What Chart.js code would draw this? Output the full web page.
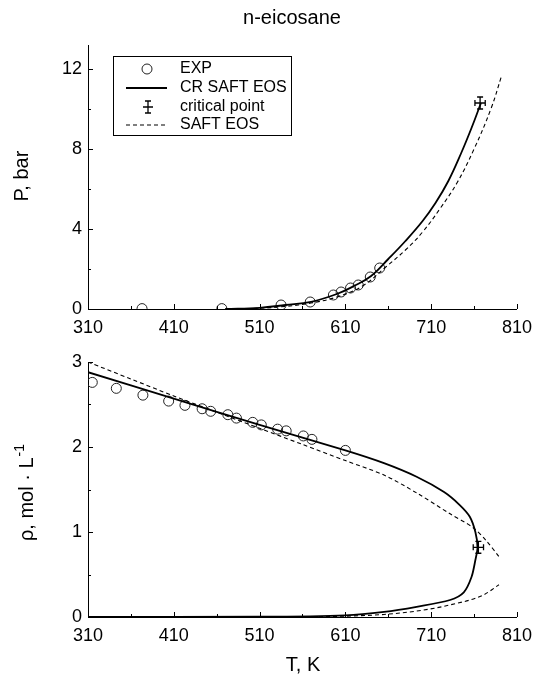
<!DOCTYPE html>
<html>
<head>
<meta charset="utf-8">
<script src="https://cdn.jsdelivr.net/npm/chart.js"></script>
<style>
  body { margin: 0; background: #fff; }
  #wrap { position: relative; width: 540px; height: 679px; }
  canvas { position: absolute; left: 0; }
</style>
</head>
<body>
<div id="wrap">
  <canvas id="pChart" width="540" height="345" style="top:0"></canvas>
  <canvas id="rhoChart" width="540" height="334" style="top:345px"></canvas>
</div>
<script>
// vapour pressure, experimental
const expPT = [373, 466, 535, 569, 596, 605, 616, 625, 639, 650];
const expP = [0.02, 0.02, 0.2, 0.35, 0.7, 0.85, 1.05, 1.2, 1.6, 2.05];
// CR SAFT EOS pressure curve
const crPT = [470, 510, 540, 570, 600, 620, 640, 660, 680, 700, 715, 730, 745, 757, 768];
const crP = [0, 0.06, 0.2, 0.36, 0.75, 1.15, 1.65, 2.5, 3.4, 4.4, 5.3, 6.4, 7.8, 9.05, 10.3];
// SAFT EOS pressure curve
const saftPT = [470, 510, 540, 570, 600, 630, 657, 680, 700, 720, 740, 760, 780, 792];
const saftP = [0, 0.04, 0.13, 0.3, 0.6, 1.15, 2.1, 2.95, 3.85, 5.0, 6.3, 8.0, 10.05, 11.65];

// saturated densities, experimental
const expRhoT = [315, 343, 374, 404, 423, 443, 453, 473, 483, 502, 512, 531, 541, 561, 571, 610];
const expRho = [2.76, 2.69, 2.61, 2.54, 2.49, 2.45, 2.42, 2.38, 2.34, 2.29, 2.26, 2.21, 2.19, 2.13, 2.09, 1.96];
// CR SAFT EOS coexistence curve (liquid branch, then vapour branch)
const crRhoT = [310, 410, 510, 610, 655, 693, 725, 743, 755, 761.5, 764, 761.5, 757, 748, 732, 693, 655, 610, 510, 310];
const crRho = [2.88, 2.57, 2.26, 1.96, 1.81, 1.65, 1.47, 1.32, 1.18, 1.0, 0.82, 0.67, 0.47, 0.29, 0.2, 0.12, 0.06, 0.02, 0.003, 0];
// SAFT EOS liquid and vapour branches
const saftLiqT = [310, 360, 410, 460, 510, 560, 610, 655, 693, 731, 759, 774, 789];
const saftLiq = [3.0, 2.8, 2.6, 2.41, 2.22, 2.03, 1.84, 1.67, 1.46, 1.22, 1.05, 0.9, 0.71];
const saftVapT = [310, 510, 610, 655, 693, 731, 771, 789];
const saftVap = [0, 0, 0.01, 0.03, 0.07, 0.14, 0.26, 0.38];

// critical point with error bars
const critT = [767, 765];
const critP = 10.3;
const critRho = 0.82;
const critErrT = 6;
const critErrP = 0.3;
const critErrRho = 0.07;

// axis ticks
const xTickLabels = [310, 410, 510, 610, 710, 810];
const pTickLabels = [0, 4, 8, 12];
const rhoTickLabels = [0, 1, 2, 3];

const FONT = "'Liberation Sans', Arial, sans-serif";
const pts = (xs, ys) => xs.map((x, i) => ({ x: x, y: ys[i] }));

function drawErrCross(ctx, xs, ys, T, v, eT, eV) {
  const x = xs.getPixelForValue(T), y = ys.getPixelForValue(v);
  const x1 = xs.getPixelForValue(T - eT), x2 = xs.getPixelForValue(T + eT);
  const y1 = ys.getPixelForValue(v - eV), y2 = ys.getPixelForValue(v + eV);
  ctx.save();
  ctx.strokeStyle = '#000';
  ctx.lineWidth = 1.3;
  ctx.beginPath();
  ctx.moveTo(x1, y); ctx.lineTo(x2, y);
  ctx.moveTo(x, y1); ctx.lineTo(x, y2);
  ctx.moveTo(x1, y - 3); ctx.lineTo(x1, y + 3);
  ctx.moveTo(x2, y - 3); ctx.lineTo(x2, y + 3);
  ctx.moveTo(x - 3, y1); ctx.lineTo(x + 3, y1);
  ctx.moveTo(x - 3, y2); ctx.lineTo(x + 3, y2);
  ctx.stroke();
  ctx.restore();
}

// inward tick marks on both axes
function innerTicks(chart, xStep, yStep, yLabels) {
  const ctx = chart.ctx, xs = chart.scales.x, ys = chart.scales.y;
  const a = chart.chartArea;
  ctx.save();
  ctx.strokeStyle = '#000';
  ctx.lineWidth = 1;
  ctx.beginPath();
  for (let v = xs.min; v <= xs.max + 1e-6; v += xStep) {
    const x = Math.round(xs.getPixelForValue(v)) + 0.5;
    const len = xTickLabels.includes(v) ? 5 : 3;
    ctx.moveTo(x, a.bottom); ctx.lineTo(x, a.bottom - len);
  }
  for (let v = ys.min; v <= ys.max + 1e-6; v += yStep) {
    const y = Math.round(ys.getPixelForValue(v)) + 0.5;
    const len = yLabels.includes(Math.round(v * 100) / 100) ? 5 : 3;
    ctx.moveTo(a.left, y); ctx.lineTo(a.left + len, y);
  }
  ctx.stroke();
  ctx.restore();
}

function xAxis() {
  return {
    type: 'linear', min: 310, max: 810,
    afterBuildTicks: s => { s.ticks = xTickLabels.map(v => ({ value: v })); },
    ticks: { autoSkip: false, maxRotation: 0, padding: 8, color: '#000', font: { family: FONT, size: 18 } },
    grid: { display: false, drawTicks: false },
    border: { display: true, color: '#000', width: 1 }
  };
}

function yAxis(min, max, labels, width) {
  return {
    type: 'linear', min: min, max: max,
    afterBuildTicks: s => { s.ticks = labels.map(v => ({ value: v })); },
    afterFit: s => { s.width = width; },
    ticks: { autoSkip: false, padding: 6, color: '#000', font: { family: FONT, size: 18 } },
    grid: { display: false, drawTicks: false },
    border: { display: true, color: '#000', width: 1 }
  };
}

const expStyle = { showLine: false, pointStyle: 'circle', pointRadius: 5, pointBorderWidth: 1,
  pointBorderColor: '#222', pointBackgroundColor: 'rgba(0,0,0,0)' };
const solidStyle = { showLine: true, pointRadius: 0, borderColor: '#000', borderWidth: 1.8, tension: 0.4 };
const dashStyle = { showLine: true, pointRadius: 0, borderColor: '#000', borderWidth: 1.1, borderDash: [4, 3], tension: 0.4 };

// ---- P vs T ----
const pDecor = {
  id: 'pDecor',
  afterDraw(chart) {
    const ctx = chart.ctx;
    innerTicks(chart, 50, 2, pTickLabels);
    drawErrCross(ctx, chart.scales.x, chart.scales.y, critT[0], critP, critErrT, critErrP);
    ctx.save();
    ctx.fillStyle = '#000';
    ctx.font = '20px ' + FONT;
    ctx.textAlign = 'center';
    ctx.textBaseline = 'middle';
    ctx.fillText('n-eicosane', 292, 18);
    ctx.translate(22, 176);
    ctx.rotate(-Math.PI / 2);
    ctx.font = '20px ' + FONT;
    ctx.fillText('P, bar', 0, 0);
    ctx.restore();

    // legend box
    ctx.save();
    ctx.strokeStyle = '#000';
    ctx.lineWidth = 1;
    ctx.fillStyle = '#fff';
    ctx.fillRect(113, 56, 178, 79);
    ctx.strokeRect(113.5, 56.5, 178, 79);
    ctx.beginPath();
    ctx.arc(147, 69, 5, 0, Math.PI * 2);
    ctx.strokeStyle = '#222';
    ctx.stroke();
    ctx.strokeStyle = '#000';
    ctx.lineWidth = 1.8;
    ctx.beginPath(); ctx.moveTo(126, 88); ctx.lineTo(167, 88); ctx.stroke();
    ctx.lineWidth = 1.3;
    ctx.beginPath();
    ctx.moveTo(143, 107); ctx.lineTo(153, 107);
    ctx.moveTo(148, 101); ctx.lineTo(148, 113);
    ctx.moveTo(145, 101); ctx.lineTo(151, 101);
    ctx.moveTo(145, 113); ctx.lineTo(151, 113);
    ctx.stroke();
    ctx.lineWidth = 1.1;
    ctx.setLineDash([4, 3]);
    ctx.beginPath(); ctx.moveTo(126, 125); ctx.lineTo(167, 125); ctx.stroke();
    ctx.setLineDash([]);
    ctx.fillStyle = '#000';
    ctx.font = '16px ' + FONT;
    ctx.textBaseline = 'middle';
    ctx.fillText('EXP', 180, 69);
    ctx.fillText('CR SAFT EOS', 180, 88);
    ctx.fillText('critical point', 180, 107);
    ctx.fillText('SAFT EOS', 180, 125);
    ctx.restore();
  }
};

const xTop = xAxis();
xTop.afterFit = s => { s.height = 36; };

new Chart(document.getElementById('pChart'), {
  type: 'scatter',
  data: {
    datasets: [
      Object.assign({ label: 'SAFT EOS', data: pts(saftPT, saftP) }, dashStyle),
      Object.assign({ label: 'CR SAFT EOS', data: pts(crPT, crP) }, solidStyle),
      Object.assign({ label: 'EXP', data: pts(expPT, expP) }, expStyle)
    ]
  },
  options: {
    responsive: false,
    animation: false,
    devicePixelRatio: 1,
    layout: { padding: { left: 0, right: 17, top: 45, bottom: 0 } },
    plugins: { legend: { display: false }, tooltip: { enabled: false } },
    scales: { x: xTop, y: yAxis(0, 13.2, pTickLabels, 88) }
  },
  plugins: [pDecor]
});

// ---- density vs T ----
const rhoDecor = {
  id: 'rhoDecor',
  afterDraw(chart) {
    const ctx = chart.ctx;
    innerTicks(chart, 50, 0.5, rhoTickLabels);
    drawErrCross(ctx, chart.scales.x, chart.scales.y, critT[1], critRho, critErrT, critErrRho);
    ctx.save();
    ctx.fillStyle = '#000';
    ctx.font = '20px ' + FONT;
    ctx.textAlign = 'center';
    ctx.textBaseline = 'middle';
    ctx.fillText('T, K', 303, 320);
    ctx.translate(27, 148);
    ctx.rotate(-Math.PI / 2);
    const main = '\u03C1, mol \u00B7 L';
    const w1 = ctx.measureText(main).width;
    ctx.font = '14px ' + FONT;
    const w2 = ctx.measureText('-1').width;
    const start = -(w1 + w2) / 2;
    ctx.textAlign = 'left';
    ctx.font = '20px ' + FONT;
    ctx.fillText(main, start, 0);
    ctx.font = '14px ' + FONT;
    ctx.fillText('-1', start + w1 + 1, -7);
    ctx.restore();
  }
};

const xBot = xAxis();
xBot.afterFit = s => { s.height = 62; };

new Chart(document.getElementById('rhoChart'), {
  type: 'scatter',
  data: {
    datasets: [
      Object.assign({ label: 'SAFT EOS', data: pts(saftLiqT, saftLiq) }, dashStyle, { tension: 0.3 }),
      Object.assign({ label: 'SAFT EOS vapour', data: pts(saftVapT, saftVap) }, dashStyle, { cubicInterpolationMode: 'monotone' }),
      Object.assign({ label: 'CR SAFT EOS', data: pts(crRhoT, crRho) }, solidStyle, { tension: 0.3 }),
      Object.assign({ label: 'EXP', data: pts(expRhoT, expRho) }, expStyle)
    ]
  },
  options: {
    responsive: false,
    animation: false,
    devicePixelRatio: 1,
    layout: { padding: { left: 0, right: 22, top: 17, bottom: 0 } },
    plugins: { legend: { display: false }, tooltip: { enabled: false } },
    scales: { x: xBot, y: yAxis(0, 3, rhoTickLabels, 88) }
  },
  plugins: [rhoDecor]
});
</script>
</body>
</html>
